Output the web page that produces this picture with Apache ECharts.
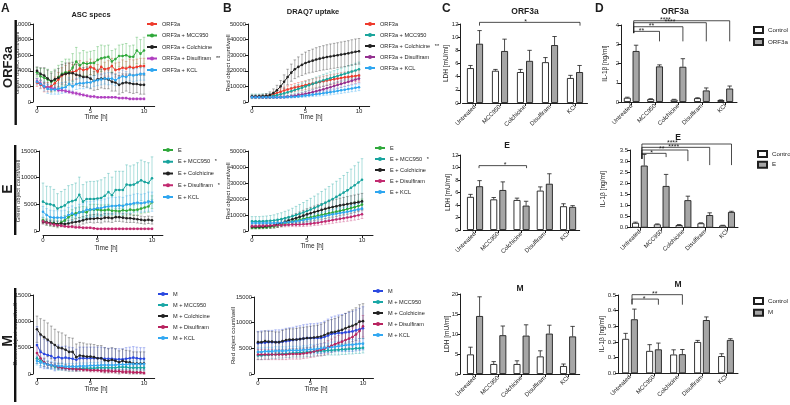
<!DOCTYPE html>
<html><head><meta charset="utf-8">
<script src="https://cdn.jsdelivr.net/npm/echarts@6/dist/echarts.min.js"></script>
<style>html,body{margin:0;padding:0;background:#fff}#c{width:790px;height:405px}</style>
</head><body><div id="c"></div>
<script>
// ---------- time axis (hours) ----------
const times = [0,0.33,0.67,1,1.33,1.67,2,2.33,2.67,3,3.33,3.67,4,4.33,4.67,5,5.33,5.67,6,6.33,6.67,7,7.33,7.67,8,8.33,8.67,9,9.33,9.67,10];
const timeTicks = [0,5,10];

// ---------- A: ASC specs, ORF3a ----------
const asc_ORF3a = [2500,2200,1900,1900,2000,2400,2900,3400,3600,3900,3800,4000,4300,4100,4200,4500,4300,3900,4500,4200,4300,4600,4100,4200,4400,4300,4500,4400,4500,4600,4600];
const asc_ORF3a_sd = [500,500,600,600,700,800,900,1000,1100,1100,1000,1100,1000,900,1000,1000,900,900,1000,900,1000,1000,900,900,1000,900,1000,1000,1000,1000,1000];
const asc_ORF3a_MCC950 = [3800,3300,3100,2900,2600,2800,3200,3600,3800,3800,4400,5200,4700,5000,4900,5000,5000,5400,5600,5700,5800,5200,5500,5900,5900,6000,5800,5800,6600,6200,6600];
const asc_ORF3a_MCC950_sd = [600,1000,1200,1300,1300,1400,1500,1600,1700,1700,1800,1800,1600,1600,1500,1500,1600,1700,1700,1500,1500,1400,1300,1400,1500,1500,1400,1500,1700,1800,1700];
const asc_ORF3a_Colchicine = [4000,3600,3400,3000,2700,2900,3100,3500,3600,3700,3700,3500,3400,3200,3200,3000,2700,2900,3000,3000,2900,2600,2500,2200,2400,2500,2400,2300,2300,2200,2200];
const asc_ORF3a_Colchicine_sd = [500,800,1000,1100,1000,1100,1200,1300,1400,1300,1400,1300,1300,1200,1300,1300,1200,1300,1200,1300,1200,1200,1100,1200,1200,1100,1200,1200,1100,1200,1200];
const asc_ORF3a_Disulfiram = [2700,2400,2000,1900,1800,1700,1500,1500,1400,1300,1200,1100,1000,900,800,700,700,600,600,600,600,600,600,500,500,500,400,400,400,400,400];
const asc_ORF3a_Disulfiram_sd = [300,300,300,300,300,200,200,200,200,200,200,200,200,150,150,150,150,100,100,100,100,100,100,100,100,100,100,100,100,100,100];
const asc_ORF3a_KCL = [2600,2300,2000,1700,1600,1600,1700,1800,1900,2300,2000,2300,2400,2400,2500,2500,2700,2800,2900,3000,3000,3000,2800,3100,3300,3200,3500,3400,3500,3600,3600];
const asc_ORF3a_KCL_sd = [400,500,600,600,600,600,700,700,700,800,700,700,700,700,700,700,700,700,700,700,800,700,700,700,800,700,800,800,800,800,800];

// ---------- B: DRAQ7 uptake, ORF3a ----------
const draq_ORF3a = [3500,3500,3600,3700,3800,4200,5000,5800,6600,7400,8000,8700,9300,9800,10300,10800,11300,11800,12300,12800,13300,13800,14200,14600,15000,15400,15800,16100,16400,16700,17000];
const draq_ORF3a_sd = [500,500,600,700,800,1000,1300,1600,1900,2100,2300,2500,2600,2700,2800,2900,3000,3000,3100,3100,3200,3200,3300,3300,3300,3400,3400,3400,3500,3500,3500];
const draq_ORF3a_MCC950 = [3600,3600,3600,3700,3700,3800,4000,4400,4900,5500,6200,6900,7700,8400,9200,10000,10800,11600,12400,13100,13900,14600,15300,16000,16700,17400,18100,18800,19500,20200,21000];
const draq_ORF3a_MCC950_sd = [1500,1500,1500,1500,1600,1600,1700,1800,1900,2000,2200,2400,2600,2800,3000,3200,3400,3500,3600,3700,3800,3900,4000,4100,4200,4300,4400,4500,4500,4600,4600];
const draq_ORF3a_Colchicine = [3500,3500,3600,3700,3900,4500,5800,7500,10000,13000,16000,18800,21000,22500,23800,25000,25800,26500,27200,27800,28300,28800,29200,29600,30000,30400,30800,31200,31700,32200,32500];
const draq_ORF3a_Colchicine_sd = [1000,1000,1000,1200,1500,2000,2600,3200,3800,4400,5000,5500,6000,6400,6800,7000,7200,7400,7600,7700,7800,7900,8000,8000,8000,8100,8100,8100,8200,8200,8200];
const draq_ORF3a_Disulfiram = [3200,3100,3100,3000,3000,3000,3000,3000,3100,3200,3400,3700,4000,4400,4800,5300,5800,6300,6900,7500,8100,8800,9500,10200,10900,11600,12300,13000,13700,14400,15000];
const draq_ORF3a_Disulfiram_sd = [600,600,600,600,600,600,600,700,700,800,800,900,1000,1100,1200,1300,1400,1500,1600,1700,1800,1900,2000,2100,2200,2300,2300,2400,2400,2500,2500];
const draq_ORF3a_KCL = [3000,3000,3000,3000,3000,3000,3000,3000,3000,3100,3200,3300,3400,3600,3800,4100,4400,4700,5000,5300,5600,6000,6300,6700,7100,7500,7900,8300,8700,9100,9500];
const draq_ORF3a_KCL_sd = [500,500,500,500,500,500,500,500,500,600,600,700,700,800,900,1000,1100,1200,1300,1400,1500,1600,1700,1800,1900,2000,2000,2100,2100,2200,2200];

// ---------- A: ASC specs, E ----------
const asc_E = [2000,1700,1500,1500,1300,1600,2000,2600,3000,3300,3500,3600,3500,4000,4000,4000,3900,3900,4000,3800,3800,3700,3900,3800,4000,3900,4000,4200,4400,4600,5400];
const asc_E_sd = [500,600,600,700,700,800,900,1000,1000,1000,1000,1000,1000,1000,1000,1000,1000,1000,1000,1000,1000,1000,1000,1000,1000,1000,1000,1000,1000,1100,1200];
const asc_E_MCC950 = [5500,5100,5000,4800,4200,4500,4800,5400,5600,5800,6800,5500,6000,6000,6000,6100,6200,6600,7300,6700,7700,7700,7700,8700,8600,8700,9100,9500,9200,9000,9900];
const asc_E_MCC950_sd = [3500,3300,3300,3000,2800,2900,3000,3100,3100,3200,3300,3200,3200,3300,3300,3300,3400,3400,3500,3400,3500,3500,3500,3700,3600,3700,3700,3800,3800,3800,4000];
const asc_E_Colchicine = [1700,1600,1500,1400,1300,1400,1300,1400,1600,1700,1800,2000,2200,2300,2300,2400,2300,2500,2500,2400,2600,2600,2500,2400,2400,2300,2200,2100,2000,2100,2000];
const asc_E_Colchicine_sd = [400,500,500,500,500,500,500,600,600,600,700,700,700,700,800,800,800,800,800,800,800,800,800,800,800,700,700,700,700,700,700];
const asc_E_Disulfiram = [1800,1600,1400,1200,1100,1000,900,800,800,700,700,600,600,600,500,400,400,400,400,400,400,400,400,400,400,400,400,400,400,400,400];
const asc_E_Disulfiram_sd = [400,300,300,300,300,200,200,200,200,200,200,200,150,150,150,100,100,100,100,100,100,100,100,100,100,100,100,100,100,100,100];
const asc_E_KCL = [3600,3000,2600,2500,2500,2500,2500,3000,3300,3000,3500,3600,4000,4000,4100,4300,4300,4500,4600,4700,4700,4800,4700,5000,5000,5200,5300,5200,5300,5500,5500];
const asc_E_KCL_sd = [1000,1200,1300,1300,1300,1300,1400,1400,1400,1400,1500,1500,1500,1500,1500,1500,1500,1500,1600,1600,1600,1600,1600,1600,1700,1700,1700,1700,1700,1800,1800];

// ---------- B: DRAQ7 uptake, E ----------
const draq_E = [2000,2000,2100,2200,2400,2600,2900,3400,4000,4700,5400,6000,6600,7100,7600,8100,8600,9100,9600,10100,10600,11100,11600,12100,12600,13100,13700,14300,14900,15600,16500];
const draq_E_sd = [800,800,800,800,900,1000,1100,1200,1400,1500,1700,1800,2000,2100,2200,2300,2400,2500,2600,2700,2800,2900,3000,3000,3100,3200,3300,3300,3400,3500,3500];
const draq_E_MCC950 = [6000,6000,6000,6100,6200,6400,6600,7000,7400,8000,8500,9200,10000,10800,11600,12500,13400,14400,15400,16500,17600,18800,20000,21300,22600,24000,25400,27000,28600,30300,32000];
const draq_E_MCC950_sd = [3000,3000,3000,3100,3200,3300,3500,3800,4000,4300,4600,5000,5400,5800,6200,6600,7000,7400,7800,8200,8600,9000,9400,9800,10200,10700,11200,11700,12200,12700,13200];
const draq_E_Colchicine = [2500,2500,2600,2700,2900,3200,3600,4200,5000,5800,6600,7300,8000,8800,9600,10400,11100,11800,12500,13200,13900,14500,15000,15500,16000,16400,16800,17200,17600,18000,18500];
const draq_E_Colchicine_sd = [1000,1000,1100,1200,1300,1500,1700,1900,2100,2300,2500,2700,2900,3100,3300,3500,3700,3800,3900,4000,4100,4200,4300,4400,4500,4600,4700,4800,4900,5000,5000];
const draq_E_Disulfiram = [3000,3000,3100,3200,3300,3400,3500,3600,3700,3800,3900,4000,4000,4100,4200,4400,4600,4900,5200,5600,6000,6400,6800,7200,7600,8000,8400,8800,9300,9800,10500];
const draq_E_Disulfiram_sd = [1000,1000,1000,1000,1000,1000,1100,1100,1100,1200,1200,1200,1300,1300,1400,1400,1500,1500,1600,1700,1800,1900,2000,2000,2100,2200,2300,2400,2500,2600,2700];
const draq_E_KCL = [5000,5000,5000,5000,5000,5000,5000,5100,5200,5300,5500,5700,6000,6400,6800,7300,7700,8100,8500,9000,9500,10000,10400,10800,11200,11600,12000,12500,13000,13500,14000];
const draq_E_KCL_sd = [1500,1500,1500,1500,1500,1500,1600,1600,1700,1700,1800,1900,2000,2100,2200,2300,2400,2500,2600,2700,2800,2900,3000,3100,3200,3300,3400,3500,3600,3700,3800];

// ---------- A: ASC specs, M ----------
const asc_M = [5500,4200,3800,3600,3400,3000,3200,3000,3100,3000,2900,2700,3000,3000,3000,3000,3000,3000,3000,2900,2900,2900,2800,2800,2800,2900,3000,3100,3000,2900,2900];
const asc_M_sd = [3500,3000,2800,2600,2500,2400,2300,2200,2200,2100,2100,2000,2100,2100,2100,2100,2100,2100,2100,2100,2000,2000,2000,2000,2000,2100,2100,2100,2100,2100,2100];
const asc_M_MCC950 = [3000,2500,2200,1800,1600,1400,1200,1200,1100,1000,1000,1000,1000,1100,1100,1100,1100,1200,1200,1200,1200,1200,1200,1300,1300,1300,1200,1200,1200,1200,1200];
const asc_M_MCC950_sd = [1000,900,800,700,600,600,500,500,500,500,500,500,500,500,500,500,500,500,500,500,500,500,500,500,500,500,500,500,500,500,500];
const asc_M_Colchicine = [8500,7500,7000,6500,6000,5500,5000,4900,4600,4200,4200,3200,3500,3400,3300,3300,3200,3000,3000,2600,2500,2700,2500,2200,2500,2300,2200,2000,2000,2000,2000];
const asc_M_Colchicine_sd = [2500,3000,3200,3200,3100,3000,3000,2900,2800,2700,2600,2500,2500,2500,2400,2400,2400,2400,2400,2400,2300,2300,2300,2200,2200,2200,2200,2200,2200,2200,2200];
const asc_M_Disulfiram = [4000,3000,2200,1800,1700,1600,1300,1200,1100,1000,1000,900,900,800,800,700,700,700,600,600,600,500,500,500,400,400,400,300,300,300,200];
const asc_M_Disulfiram_sd = [1200,1000,800,600,500,500,400,400,400,400,400,400,300,300,300,300,300,300,300,300,300,300,300,300,300,300,300,200,200,200,200];
const asc_M_KCL = [2500,2200,2000,1800,1700,1600,1500,1500,1400,1400,1400,1400,1500,1500,1500,1600,1600,1600,1700,1700,1700,1700,1700,1800,1800,1800,1900,1900,1900,1900,1900];
const asc_M_KCL_sd = [800,700,700,600,600,600,600,600,600,600,600,600,600,600,600,600,600,600,600,600,600,600,600,600,600,600,600,600,600,600,600];

// ---------- B: DRAQ7 uptake, M ----------
const draq_M = [6000,6100,6100,6200,6200,6200,6200,6300,6400,6500,6600,6700,6800,6900,7000,7000,7000,7000,7000,7200,7500,7800,7900,8000,8000,8100,8200,8300,8500,8700,8900];
const draq_M_sd = [2300,2300,2300,2300,2300,2400,2400,2400,2500,2500,2500,2600,2600,2700,2700,2800,2800,2900,3000,3100,3200,3300,3400,3500,3600,3700,3800,3900,4000,4100,4200];
const draq_M_MCC950 = [3600,3600,3700,3700,3800,3800,3900,3900,4000,4000,4100,4100,4200,4200,4300,4300,4400,4400,4500,4500,4600,4600,4700,4700,4800,4800,4900,4900,5000,5000,5100];
const draq_M_MCC950_sd = [800,800,800,800,800,800,800,800,800,800,800,800,900,900,900,900,900,900,900,900,900,900,1000,1000,1000,1000,1000,1000,1000,1000,1000];
const draq_M_Colchicine = [6200,6200,6400,6300,6300,6200,6200,6400,6600,6700,6700,6700,6800,6900,7000,7000,7100,7200,7300,7600,7900,8100,8200,8400,8600,8900,9200,9400,9700,10200,10300];
const draq_M_Colchicine_sd = [2000,2000,2000,2000,2000,2000,2000,2100,2100,2100,2100,2200,2200,2200,2200,2300,2300,2300,2400,2400,2500,2500,2600,2700,2800,2900,3000,3100,3200,3300,3400];
const draq_M_Disulfiram = [3800,3800,3800,3800,3800,3800,3800,3800,3800,3900,3900,3900,3900,4000,4100,4200,4400,4600,4700,4900,5200,5500,5800,6100,6300,6600,6900,7200,7700,8400,9300];
const draq_M_Disulfiram_sd = [1000,1000,1000,1000,1000,1000,1000,1000,1000,1000,1000,1000,1000,1000,1000,1000,1100,1100,1200,1200,1300,1300,1400,1400,1500,1600,1700,1800,1900,2000,2100];
const draq_M_KCL = [4300,4300,4400,4400,4400,4500,4500,4500,4500,4600,4600,4600,4600,4700,4700,4800,4800,4900,5000,5100,5100,5200,5300,5400,5500,5600,5700,5700,5800,5900,5900];
const draq_M_KCL_sd = [800,800,800,800,800,800,800,800,800,800,800,800,800,800,800,900,900,900,900,900,900,1000,1000,1000,1000,1000,1000,1000,1000,1000,1000];

// ---------- C / D: bar data ----------
const treatments = ['Untreated','MCC950','Colchicine','Disulfiram','KCl'];
const ldh_ORF3a_ctrl = [5.3,4.9,4.7,6.2,3.8];   const ldh_ORF3a_ctrl_sd = [0.4,0.2,0.4,0.7,0.4];
const ldh_ORF3a = [9.0,7.9,6.4,8.8,4.7];        const ldh_ORF3a_sd = [2.0,1.8,1.6,1.3,1.0];
const ldh_E_ctrl = [5.3,4.9,4.8,6.3,3.8];       const ldh_E_ctrl_sd = [0.4,0.3,0.3,0.6,0.4];
const ldh_E = [7.0,6.4,3.9,7.4,3.7];            const ldh_E_sd = [0.9,1.3,0.7,1.6,0.2];
const ldh_M_ctrl = [4.9,2.5,2.5,4.4,2.0];       const ldh_M_ctrl_sd = [1.8,0.6,0.8,1.4,0.5];
const ldh_M = [14.5,9.7,9.6,10.1,9.4];          const ldh_M_sd = [4.8,2.3,2.7,2.1,2.5];
const il_ORF3a_ctrl = [0.22,0.15,0.12,0.2,0.1]; const il_ORF3a_ctrl_sd = [0.03,0.02,0.02,0.02,0.01];
const il_ORF3a = [2.65,1.85,1.83,0.6,0.7];      const il_ORF3a_sd = [0.3,0.08,0.42,0.13,0.13];
const il_E_ctrl = [0.22,0.15,0.12,0.2,0.1];     const il_E_ctrl_sd = [0.03,0.02,0.02,0.02,0.01];
const il_E = [2.8,1.88,1.24,0.57,0.71];         const il_E_sd = [0.5,0.52,0.18,0.1,0.03];
const il_M_ctrl = [0.22,0.143,0.12,0.2,0.11];   const il_M_ctrl_sd = [0.035,0.04,0.03,0.01,0.015];
const il_M = [0.345,0.153,0.122,0.34,0.213];    const il_M_sd = [0.065,0.04,0.03,0.02,0.008];

// significance brackets: [fromCat, toCat, topValue, leftLegEnd, rightLegEnd, label, labelPos]
const sigC1 = [[0,4,12.25,11.75,11.75,'*',0.46]];
const sigC2 = [[0,2,10.3,9.9,9.9,'*',0.55]];
const sigD1 = [[0,1,3.67,3.58,3.15,'**',0.3],[0,2,3.91,3.58,3.15,'**',0.36],[0,3,4.12,3.58,3.15,'****',0.5],[0,4,4.22,3.58,3.15,'****',0.33]];
const sigD2 = [[0,1,3.35,3.1,3.18,'*',0.4],[0,2,3.5,3.1,3.0,'**',0.43],[0,3,3.62,3.1,2.82,'****',0.47],[0,4,3.77,3.1,2.82,'****',0.34]];
const sigD3 = [[0,1,0.474,0.44,0.438,'*',0.46],[0,2,0.502,0.44,0.438,'**',0.45]];

// ---------- build ----------
const FONT = '"Liberation Sans", Arial, Helvetica, sans-serif';
const INK = '#1e1e1e';
const LEG_FS = 5.6;
const grids = [], xAxes = [], yAxes = [], series = [], legends = [];

function errBar(params, api) {
  const x = api.value(0), y = api.value(1), e = api.value(2);
  const t = api.coord([x, y + e]);
  const b = api.coord([x, Math.max(0, y - e)]);
  const st = {stroke: api.visual('color'), lineWidth: 0.7, opacity: 0.5};
  const c = 1.3;
  return {type: 'group', children: [
    {type: 'line', shape: {x1: t[0], y1: t[1], x2: b[0], y2: b[1]}, style: st},
    {type: 'line', shape: {x1: t[0]-c, y1: t[1], x2: t[0]+c, y2: t[1]}, style: st},
    {type: 'line', shape: {x1: b[0]-c, y1: b[1], x2: b[0]+c, y2: b[1]}, style: st}
  ]};
}

function barErr(off) {
  return function (params, api) {
    const i = api.value(0), v = api.value(1), e = api.value(2);
    const p0 = api.coord([i, v]), p1 = api.coord([i, v + e]);
    const x = p0[0] + off;
    const st = {stroke: INK, lineWidth: 0.8};
    return {type: 'group', children: [
      {type: 'line', shape: {x1: x, y1: p0[1], x2: x, y2: p1[1]}, style: st},
      {type: 'line', shape: {x1: x-2.2, y1: p1[1], x2: x+2.2, y2: p1[1]}, style: st}
    ]};
  };
}

function legendFmt(stars) {
  return function (n) {
    const c = n.replace(/\u200b/g, '');
    return c + (stars && stars[c] ? '   ' + stars[c] : '');
  };
}

function timePanel(p) {
  const gi = grids.length;
  grids.push({left: p.x0, top: p.top, width: p.w10 * 1.1, height: p.h, outerBoundsMode: 'none', containLabel: false});
  xAxes.push({gridIndex: gi, type: 'value', min: 0, max: 11, interval: 5, offset: 4,
    axisLine: {show: true, onZero: false, lineStyle: {color: INK, width: 1}},
    axisTick: {show: true, length: 3, lineStyle: {color: INK}, customValues: timeTicks},
    axisLabel: {fontSize: 6, color: INK, margin: 2, fontFamily: FONT, customValues: timeTicks,
      formatter: v => (v % 5 === 0 ? String(v) : '')},
    splitLine: {show: false}});
  yAxes.push({gridIndex: gi, type: 'value', min: 0, max: p.ymax, interval: p.yint, offset: 4,
    axisLine: {show: true, onZero: false, lineStyle: {color: INK, width: 1}},
    axisTick: {show: true, length: 3, lineStyle: {color: INK}},
    axisLabel: {fontSize: 5.8, color: INK, margin: 2, fontFamily: FONT, formatter: v => String(v)},
    splitLine: {show: false}});
  p.lines.forEach((s, i) => {
    series.push({type: 'custom', xAxisIndex: gi, yAxisIndex: gi, renderItem: errBar, silent: true, z: 1,
      itemStyle: {color: p.colors[i]}, data: times.map((t, j) => [t, s[0][j], s[1][j]])});
  });
  p.lines.forEach((s, i) => {
    series.push({type: 'line', name: p.names[i], xAxisIndex: gi, yAxisIndex: gi, silent: true, z: 3,
      symbol: 'circle', symbolSize: 2.6, showSymbol: true,
      lineStyle: {width: 1, color: p.colors[i]}, itemStyle: {color: p.colors[i]},
      data: times.map((t, j) => [t, s[0][j]])});
  });
  legends.push({orient: 'vertical', left: p.legLeft, top: p.legTop, padding: 0, itemGap: p.legGap,
    itemWidth: 10, itemHeight: 5, selectedMode: false, data: p.names,
    textStyle: {fontSize: LEG_FS, color: INK, fontFamily: FONT, lineHeight: 8},
    formatter: legendFmt(p.stars)});
  return gi;
}

function barPanel(p) {
  const gi = grids.length;
  grids.push({left: p.x0, top: p.top, width: p.w, height: p.h, outerBoundsMode: 'none', containLabel: false});
  xAxes.push({gridIndex: gi, type: 'category', data: treatments,
    axisLine: {show: true, lineStyle: {color: INK, width: 1}},
    axisTick: {show: true, alignWithLabel: true, length: 3, lineStyle: {color: INK}},
    axisLabel: {interval: 0, rotate: 45, fontSize: 6, color: INK, margin: 3, fontFamily: FONT},
    splitLine: {show: false}});
  yAxes.push({gridIndex: gi, type: 'value', min: 0, max: p.ymax, interval: p.yint, offset: p.yOff,
    axisLine: {show: true, onZero: false, lineStyle: {color: INK, width: 1}},
    axisTick: {show: true, length: 3, lineStyle: {color: INK}},
    axisLabel: {fontSize: 6, color: INK, margin: 2, fontFamily: FONT, formatter: p.fmt || (v => String(v))},
    splitLine: {show: false}});
  const bw = 7, gap = p.gap;
  const off = (bw + bw * gap) / 2;
  series.push({type: 'bar', name: 'Control', xAxisIndex: gi, yAxisIndex: gi, silent: true, z: 2,
    barWidth: bw, barGap: (gap * 100) + '%', data: p.ctrl,
    itemStyle: {color: '#ffffff', borderColor: INK, borderWidth: 0.9}});
  series.push({type: 'bar', name: p.trtName, xAxisIndex: gi, yAxisIndex: gi, silent: true, z: 2,
    barWidth: bw, barGap: (gap * 100) + '%', data: p.trt,
    itemStyle: {color: '#a6a6a6', borderColor: INK, borderWidth: 0.9}});
  series.push({type: 'custom', xAxisIndex: gi, yAxisIndex: gi, silent: true, z: 4, renderItem: barErr(-off),
    data: p.ctrl.map((v, i) => [i, v, p.ctrlSd[i]])});
  series.push({type: 'custom', xAxisIndex: gi, yAxisIndex: gi, silent: true, z: 4, renderItem: barErr(off),
    data: p.trt.map((v, i) => [i, v, p.trtSd[i]])});
  if (p.legLeft !== undefined) {
    legends.push({orient: 'vertical', left: p.legLeft, top: p.legTop, padding: 0, itemGap: p.legGap,
      itemWidth: 9, itemHeight: 6, icon: 'rect', selectedMode: false, data: ['Control', p.trtName],
      textStyle: {fontSize: 6.2, color: INK, fontFamily: FONT, lineHeight: 8},
      formatter: legendFmt(null)});
  }
  return gi;
}

const cA1 = ['#ee3a2c','#2fa83a','#222222','#b03fc0','#2ea6f0'];
const cB1 = ['#ee3a2c','#1aa59c','#222222','#93308f','#2ea6f0'];
const cE  = ['#2fa83a','#17a39d','#222222','#c22a70','#2ea6f0'];
const cM  = ['#2a48e0','#19a7a6','#222222','#b8235f','#32a8f2'];
const nORF = ['ORF3a','ORF3a + MCC950','ORF3a + Colchicine','ORF3a + Disulfiram','ORF3a + KCL'];
const nE = ['E','E + MCC950','E + Colchicine','E + Disulfiram','E + KCL'];
const nM = ['M','M + MCC950','M + Colchicine','M + Disulfiram','M + KCL'];
const zw = a => a.map(n => n + '\u200b');

// Row 1
timePanel({x0: 37, top: 24, w10: 107, h: 78, ymax: 10000, yint: 2000, colors: cA1, names: nORF,
  lines: [[asc_ORF3a, asc_ORF3a_sd],[asc_ORF3a_MCC950, asc_ORF3a_MCC950_sd],[asc_ORF3a_Colchicine, asc_ORF3a_Colchicine_sd],[asc_ORF3a_Disulfiram, asc_ORF3a_Disulfiram_sd],[asc_ORF3a_KCL, asc_ORF3a_KCL_sd]],
  legLeft: 146, legTop: 20, legGap: 3.5, stars: {'ORF3a + Disulfiram': '**'}});
timePanel({x0: 252, top: 24, w10: 107, h: 78, ymax: 50000, yint: 10000, colors: cB1, names: zw(nORF),
  lines: [[draq_ORF3a, draq_ORF3a_sd],[draq_ORF3a_MCC950, draq_ORF3a_MCC950_sd],[draq_ORF3a_Colchicine, draq_ORF3a_Colchicine_sd],[draq_ORF3a_Disulfiram, draq_ORF3a_Disulfiram_sd],[draq_ORF3a_KCL, draq_ORF3a_KCL_sd]],
  legLeft: 364, legTop: 20, legGap: 3, stars: {'ORF3a + Colchicine': '**'}});
const gC1 = barPanel({x0: 462.5, top: 24, w: 125, h: 79, ymax: 12, yint: 2, yOff: 2, gap: 0.3, trtName: 'ORF3a\u200b\u200b',
  ctrl: ldh_ORF3a_ctrl, ctrlSd: ldh_ORF3a_ctrl_sd, trt: ldh_ORF3a, trtSd: ldh_ORF3a_sd});
const gD1 = barPanel({x0: 620, top: 25, w: 117, h: 77, ymax: 4, yint: 1, yOff: -1, gap: 0.25, trtName: 'ORF3a\u200b\u200b',
  ctrl: il_ORF3a_ctrl, ctrlSd: il_ORF3a_ctrl_sd, trt: il_ORF3a, trtSd: il_ORF3a_sd,
  legLeft: 753, legTop: 26, legGap: 4});
// Row 2
timePanel({x0: 43, top: 151, w10: 109, h: 80, ymax: 15000, yint: 5000, colors: cE, names: nE,
  lines: [[asc_E, asc_E_sd],[asc_E_MCC950, asc_E_MCC950_sd],[asc_E_Colchicine, asc_E_Colchicine_sd],[asc_E_Disulfiram, asc_E_Disulfiram_sd],[asc_E_KCL, asc_E_KCL_sd]],
  legLeft: 162, legTop: 146, legGap: 3.75, stars: {'E + MCC950': '*', 'E + Disulfiram': '*'}});
timePanel({x0: 252, top: 151, w10: 110, h: 80, ymax: 50000, yint: 10000, colors: cE, names: zw(nE),
  lines: [[draq_E, draq_E_sd],[draq_E_MCC950, draq_E_MCC950_sd],[draq_E_Colchicine, draq_E_Colchicine_sd],[draq_E_Disulfiram, draq_E_Disulfiram_sd],[draq_E_KCL, draq_E_KCL_sd]],
  legLeft: 374, legTop: 144, legGap: 3, stars: {'E + MCC950': '*'}});
const gC2 = barPanel({x0: 463.4, top: 155, w: 116.3, h: 75, ymax: 12, yint: 2, yOff: 2.7, gap: 0.3, trtName: 'E\u200b\u200b',
  ctrl: ldh_E_ctrl, ctrlSd: ldh_E_ctrl_sd, trt: ldh_E, trtSd: ldh_E_sd});
const gD2 = barPanel({x0: 629, top: 150, w: 109, h: 77.7, ymax: 3.5, yint: 0.5, yOff: -1, gap: 0.25, trtName: 'E\u200b\u200b',
  fmt: v => v.toFixed(1),
  ctrl: il_E_ctrl, ctrlSd: il_E_ctrl_sd, trt: il_E, trtSd: il_E_sd,
  legLeft: 757, legTop: 150, legGap: 2.7});
// Row 3
timePanel({x0: 37, top: 295, w10: 107, h: 79, ymax: 15000, yint: 5000, colors: cM, names: nM,
  lines: [[asc_M, asc_M_sd],[asc_M_MCC950, asc_M_MCC950_sd],[asc_M_Colchicine, asc_M_Colchicine_sd],[asc_M_Disulfiram, asc_M_Disulfiram_sd],[asc_M_KCL, asc_M_KCL_sd]],
  legLeft: 157, legTop: 290, legGap: 3, stars: null});
timePanel({x0: 258, top: 297, w10: 105, h: 77, ymax: 15000, yint: 5000, colors: cM, names: zw(nM),
  lines: [[draq_M, draq_M_sd],[draq_M_MCC950, draq_M_MCC950_sd],[draq_M_Colchicine, draq_M_Colchicine_sd],[draq_M_Disulfiram, draq_M_Disulfiram_sd],[draq_M_KCL, draq_M_KCL_sd]],
  legLeft: 372, legTop: 287, legGap: 3, stars: null});
const gC3 = barPanel({x0: 463.4, top: 294, w: 116.3, h: 80, ymax: 20, yint: 5, yOff: 3, gap: 0.3, trtName: 'M\u200b\u200b',
  ctrl: ldh_M_ctrl, ctrlSd: ldh_M_ctrl_sd, trt: ldh_M, trtSd: ldh_M_sd});
const gD3 = barPanel({x0: 618, top: 295, w: 120, h: 78.3, ymax: 0.5, yint: 0.1, yOff: 0, gap: 0.25, trtName: 'M\u200b\u200b',
  fmt: v => v.toFixed(1),
  ctrl: il_M_ctrl, ctrlSd: il_M_ctrl_sd, trt: il_M, trtSd: il_M_sd,
  legLeft: 753, legTop: 297, legGap: 3.7});

const chart = echarts.init(document.getElementById('c'), null, {renderer: 'canvas'});
chart.setOption({
  animation: false, backgroundColor: '#ffffff',
  textStyle: {fontFamily: FONT},
  grid: grids, xAxis: xAxes, yAxis: yAxes, legend: legends, series: series
});

// ---------- annotations ----------
function T(text, x, y, size, o) {
  o = o || {};
  const st = {text: text, fontSize: size, fontWeight: o.bold ? 'bold' : 'normal', fontFamily: FONT, fill: o.fill || INK,
    align: o.align || 'center', verticalAlign: o.va || 'middle', textAlign: o.align || 'center', textVerticalAlign: o.va || 'middle'};
  return {type: 'text', x: x, y: y, rotation: o.rot || 0, z: 20, silent: true, style: st};
}
const R90 = Math.PI / 2;
const g = [
  T('A', 1, 3, 12, {bold: true, align: 'left', va: 'top'}),
  T('B', 223, 3, 12, {bold: true, align: 'left', va: 'top'}),
  T('C', 442, 3, 12, {bold: true, align: 'left', va: 'top'}),
  T('D', 595, 3, 12, {bold: true, align: 'left', va: 'top'}),
  T('ORF3a', 8, 67, 13, {bold: true, rot: R90}),
  T('E', 8, 189, 14, {bold: true, rot: R90}),
  T('M', 8, 341, 14, {bold: true, rot: R90}),
  {type: 'rect', shape: {x: 14.5, y: 20, width: 2.4, height: 105}, style: {fill: '#111'}, silent: true},
  {type: 'rect', shape: {x: 14, y: 145, width: 2.4, height: 90}, style: {fill: '#111'}, silent: true},
  {type: 'rect', shape: {x: 14, y: 288, width: 2.4, height: 114}, style: {fill: '#111'}, silent: true},
  T('ASC specs', 91, 15, 7.5, {bold: true}),
  T('DRAQ7 uptake', 313, 12, 7.5, {bold: true}),
  T('ORF3a', 525, 12, 8.5, {bold: true}),
  T('E', 507, 146, 8.5, {bold: true}),
  T('M', 520, 289, 8.5, {bold: true}),
  T('ORF3a', 675, 12, 8.5, {bold: true}),
  T('E', 678, 138, 8.5, {bold: true}),
  T('M', 678, 285, 8.5, {bold: true}),
  T('Green object count/well', 17, 63, 6, {rot: R90}),
  T('Green object count/well', 18, 191, 6, {rot: R90}),
  T('Green object count/well', 15, 334.5, 6, {rot: R90}),
  T('Red object count/well', 228, 63, 6, {rot: R90}),
  T('Red object count/well', 228, 191, 6, {rot: R90}),
  T('Red object count/well', 233, 335.5, 6, {rot: R90}),
  T('LDH [mU/ml]', 446, 63.5, 6.5, {rot: R90}),
  T('LDH [mU/ml]', 448, 192.5, 6.5, {rot: R90}),
  T('LDH [mU/ml]', 447, 334, 6.5, {rot: R90}),
  T('IL-1β [ng/ml]', 605, 63.5, 6.5, {rot: R90}),
  T('IL-1β [ng/ml]', 603, 189, 6.5, {rot: R90}),
  T('IL-1β [ng/ml]', 602, 334, 6.5, {rot: R90}),
  T('Time [h]', 96, 117, 6.5),
  T('Time [h]', 311, 117, 6.5),
  T('Time [h]', 106, 248, 6.5),
  T('Time [h]', 312, 246, 6.5),
  T('Time [h]', 96, 389, 6.5),
  T('Time [h]', 316, 389, 6.5)
];

function brackets(list, gi, lo, ro) {
  const f = {xAxisIndex: gi, yAxisIndex: gi};
  list.forEach(b => {
    const L = chart.convertToPixel(f, [b[0], b[2]]);
    const Rt = chart.convertToPixel(f, [b[1], b[2]]);
    const yl = chart.convertToPixel(f, [b[0], b[3]])[1];
    const yr = chart.convertToPixel(f, [b[1], b[4]])[1];
    const xl = L[0] + lo, xr = Rt[0] + ro, yt = L[1];
    g.push({type: 'polyline', z: 20, silent: true,
      shape: {points: [[xl, yl], [xl, yt], [xr, yt], [xr, yr]]},
      style: {stroke: INK, fill: 'none', lineWidth: 0.8}});
    g.push(T(b[5], xl + (xr - xl) * b[6], yt - 0.5, 7));
  });
}
brackets(sigC1, gC1, 4.5, 5);
brackets(sigC2, gC2, 4, 5);
brackets(sigD1, gD1, 2, 4.4);
brackets(sigD2, gD2, 2, 4.4);
brackets(sigD3, gD3, 2, 4.4);

chart.setOption({graphic: {elements: g}});
</script>
</body></html>
